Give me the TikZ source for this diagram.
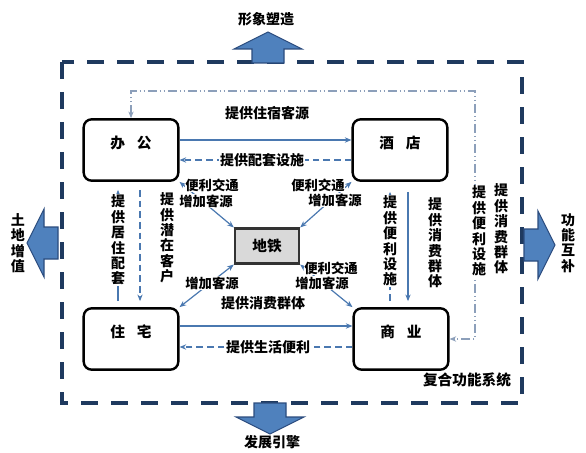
\documentclass[tikz,border=0pt]{standalone}
\usepackage{fontspec}
\setmainfont{Noto Sans CJK SC}
\usetikzlibrary{arrows.meta,calc}
\definecolor{fnNavy}{HTML}{1F3A5F}
\definecolor{fnBlue}{HTML}{4F81BD}
\definecolor{fnEdge}{HTML}{2B4C7E}
\definecolor{fnLink}{HTML}{4A78B0}
\definecolor{fnLoop}{HTML}{8C9FBA}
\definecolor{fnGray}{HTML}{D9D9D9}
\tikzset{
  fn frame/.style={draw=fnNavy, line width=3pt, dash pattern=on 12.5pt off 10pt},
  fn box/.style={draw=black, line width=1.8pt, rounded corners=6pt, minimum width=71pt, minimum height=46pt, text height=8pt, text depth=11pt, font=\fontsize{11}{13}\selectfont\bfseries},
  fn hub/.style={draw=black!80, fill=fnGray, line width=1.8pt, minimum width=48pt, minimum height=26pt, font=\fontsize{11}{13}\selectfont\bfseries},
  fn link/.style={draw=fnLink, line width=0.9pt, -{Stealth[length=5pt,width=4pt]}},
  fn back/.style={fn link, dash pattern=on 5pt off 3pt},
  fn both/.style={draw=fnLink, line width=0.9pt, {Stealth[length=5pt,width=4pt]}-{Stealth[length=5pt,width=4pt]}},
  fn loop/.style={draw=fnLoop, line width=0.8pt, dash pattern=on 7pt off 2pt on 1pt off 2pt on 1pt off 2pt, {Stealth[length=5pt,width=4pt]}-{Stealth[length=5pt,width=4pt]}},
  fn label/.style={font=\fontsize{10.5}{11.6}\selectfont\bfseries, fill=white, inner sep=0.5pt, align=center},
  fn tag/.style={font=\fontsize{10}{12}\selectfont\bfseries, fill=white, inner sep=0.5pt},
  fn arrow/.style={fill=fnBlue, draw=fnEdge, line width=0.8pt, line join=miter},
}

\begin{document}
\begin{tikzpicture}[x=0.75pt, y=-0.75pt]
  \useasboundingbox (0,0) rectangle (586,453);

  % dashed frame round the whole system
  \draw[fn frame] (62,62) rectangle (522,403);

  % block arrows pointing out of the frame
  \foreach \bx/\by/\ang in {268/63/90, 270/403/-90, 58/243/180, 524/245/0} {
    \filldraw[fn arrow, shift={(\bx,\by)}, rotate=\ang]
      (0,-16) -- (14,-16) -- (14,-34) -- (31,0) -- (14,34) -- (14,16) -- (0,16) -- cycle;
  }
  \node[fn label] (image) at (266,19) {形象塑造};
  \node[fn label] (engine) at (272,442) {发展引擎};
  \node[fn label] (land) at (18,243) {土\\地\\增\\值};
  \node[fn label] (mutual) at (568,243) {功\\能\\互\\补};
  \node[fn label, font=\fontsize{11}{13}\selectfont\bfseries] (system) at (467,380) {复合功能系统};

  % four blocks and the metro in the middle
  \node[fn box] (office) at (131,150) {办\hspace{0.8em}公};
  \node[fn box] (hotel) at (400,150) {酒\hspace{0.8em}店};
  \node[fn box] (home) at (131,339) {住\hspace{0.8em}宅};
  \node[fn box] (shop) at (401,339) {商\hspace{0.8em}业};
  \node[fn hub] (metro) at (267,246) {地铁};

  % office <-> hotel
  \draw[fn link] ($(office.east)+(0,-10)$) -- ($(hotel.west)+(0,-10)$);
  \draw[fn back] ($(hotel.west)+(0,10)$) -- ($(office.east)+(0,10)$);
  \node[fn label] (stay) at (267,113) {提供住宿客源};
  \node[fn label] (kit) at (262,160) {提供配套设施};

  % home <-> shop
  \draw[fn link] ($(home.east)+(0,-13)$) -- ($(shop.west)+(0,-13)$);
  \draw[fn back] ($(shop.west)+(0,8)$) -- ($(home.east)+(0,8)$);
  \node[fn label] (buyers) at (263,303) {提供消费群体};
  \node[fn label] (daily) at (268,347) {提供生活便利};

  % office <-> home
  \draw[fn link] ($(home.north)+(-13,-6)$) -- ($(office.south)+(-13,8)$);
  \draw[fn back] ($(office.south)+(9,8)$) -- ($(home.north)+(9,-6)$);
  \node[fn label] (living) at (118,240) {提\\供\\居\\住\\配\\套};
  \node[fn label] (clients) at (167,238) {提\\供\\潜\\在\\客\\户};

  % hotel <-> shop
  \draw[fn back] ($(shop.north)+(-11,-6)$) -- ($(hotel.south)+(-10,10)$);
  \draw[fn link] ($(hotel.south)+(8,10)$) -- ($(shop.north)+(7,-6)$);
  \node[fn label] (amenity) at (390,241) {提\\供\\便\\利\\设\\施};
  \node[fn label] (crowd) at (435,243) {提\\供\\消\\费\\群\\体};

  % metro links to the four corners
  \draw[fn both] (office.south east) -- (metro.north west);
  \draw[fn both] (hotel.south west) -- (metro.north east);
  \draw[fn both] (metro.south west) -- (home.north east);
  \draw[fn both] (metro.south east) -- (shop.north west);
  \node[fn tag] (ttOffice) at (212,185) {便利交通};
  \node[fn tag] (gsOffice) at (206,201) {增加客源};
  \node[fn tag] (ttHotel) at (318,185) {便利交通};
  \node[fn tag] (gsHotel) at (335,200) {增加客源};
  \node[fn tag] (gsHome) at (212,283) {增加客源};
  \node[fn tag] (ttShop) at (331,268) {便利交通};
  \node[fn tag] (gsShop) at (322,283) {增加客源};

  % outer loop office <-> shop
  \coordinate (loopcorner) at (475,91);
  \draw[fn loop] (office.north) |- (loopcorner) |- (shop.east);
  \node[fn label] (amenityOut) at (479,231) {提\\供\\便\\利\\设\\施};
  \node[fn label] (crowdOut) at (501,229) {提\\供\\消\\费\\群\\体};
\end{tikzpicture}
\end{document}
